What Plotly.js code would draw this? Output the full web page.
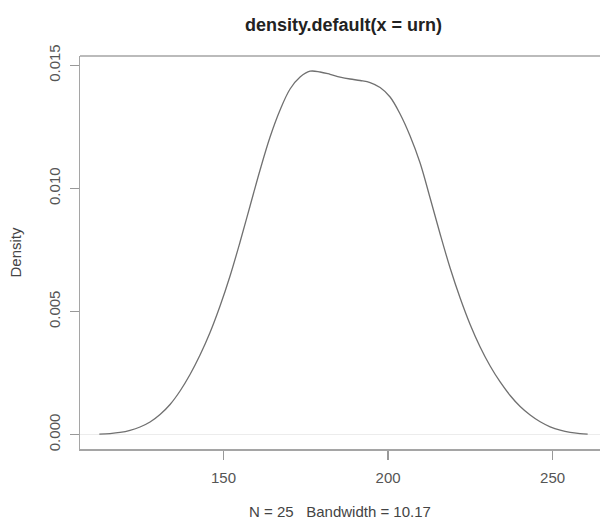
<!DOCTYPE html>
<html>
<head>
<meta charset="utf-8">
<script src="https://cdn.plot.ly/plotly-3.0.1.min.js"></script>
<style>html,body{margin:0;padding:0;background:#fff;}#chart{width:600px;height:527px;}</style>
</head>
<body>
<div id="chart"></div>
<script>
// Density estimate
var densX = [112.27, 115.52, 118.56, 121.60, 124.64, 127.68, 130.72, 133.76, 136.80, 139.83,
             142.87, 145.91, 148.95, 151.99, 155.03, 158.07, 161.11, 164.15, 167.19, 170.23,
             173.27, 176.31, 179.35, 182.39, 185.43, 188.47, 191.51, 194.55, 197.59, 200.62,
             203.66, 206.70, 209.74, 212.78, 215.82, 218.86, 221.90, 224.94, 227.98, 231.02,
             234.06, 237.10, 240.14, 243.18, 246.22, 249.26, 252.30, 255.34, 258.38, 260.65];
var densY = [0.000020, 0.000045, 0.000093, 0.000179, 0.000313, 0.000516, 0.000820, 0.001226, 0.001774, 0.002444,
             0.003236, 0.004150, 0.005226, 0.006444, 0.007825, 0.009287, 0.010748, 0.012088, 0.013185, 0.014037,
             0.014525, 0.014760, 0.014728, 0.014634, 0.014525, 0.014444, 0.014383, 0.014301, 0.014098, 0.013713,
             0.013022, 0.012129, 0.011033, 0.009611, 0.008150, 0.006769, 0.005551, 0.004475, 0.003561, 0.002790,
             0.002140, 0.001592, 0.001145, 0.000800, 0.000524, 0.000321, 0.000183, 0.000093, 0.000045, 0.000024];
var xTickVals = [150, 200, 250];
var xTickText = ["150", "200", "250"];
var yTickVals = [0, 0.005, 0.010, 0.015];
var yTickText = ["0.000", "0.005", "0.010", "0.015"];
var titleText = "density.default(x = urn)";
var xLabel = "N = 25   Bandwidth = 10.17";
var yLabel = "Density";

var font = "Liberation Sans, Arial, Helvetica, sans-serif";

var trace = {
  x: densX, y: densY, type: "scatter", mode: "lines",
  line: {color: "#707070", width: 1.3, shape: "spline", smoothing: 1},
  hoverinfo: "none", showlegend: false
};

var layout = {
  width: 600, height: 527,
  margin: {l: 80, r: 0, t: 56, b: 78, pad: 0},
  paper_bgcolor: "#ffffff", plot_bgcolor: "#ffffff",
  font: {family: font, color: "#555555", size: 15},
  title: {
    text: "<b>" + titleText + "</b>",
    font: {family: font, size: 18, color: "#222222"},
    xref: "container", x: 343.5 / 600, xanchor: "center",
    yref: "container", y: 1 - 25 / 527, yanchor: "middle"
  },
  xaxis: {
    range: [106.4, 264.4], showgrid: false, zeroline: false,
    showline: true, linecolor: "#a5a5a5", linewidth: 1.5,
    ticks: "outside", ticklen: 9, tickwidth: 1.2, tickcolor: "#999999",
    tickvals: xTickVals, ticktext: xTickText, ticklabelstandoff: 5,
    tickfont: {family: font, size: 15, color: "#555555"},
    title: {text: xLabel, font: {family: font, size: 15, color: "#444444"}, standoff: 22}
  },
  yaxis: {
    range: [-0.000581, 0.015378], showgrid: false,
    zeroline: true, zerolinecolor: "#ececec", zerolinewidth: 1,
    showline: true, linecolor: "#a5a5a5", linewidth: 1.5,
    ticks: "outside", ticklen: 9, tickwidth: 1.2, tickcolor: "#999999",
    tickvals: yTickVals, ticktext: yTickText, tickangle: -90, ticklabelstandoff: 4,
    tickfont: {family: font, size: 15, color: "#555555"},
    title: {text: yLabel, font: {family: font, size: 15, color: "#444444"}, standoff: 20}
  },
  shapes: [{
    type: "line", xref: "paper", yref: "paper", x0: 0, x1: 1, y0: 1, y1: 1,
    line: {color: "#a5a5a5", width: 1.5}
  }]
};

Plotly.newPlot("chart", [trace], layout, {staticPlot: true, displayModeBar: false});
</script>
</body>
</html>
